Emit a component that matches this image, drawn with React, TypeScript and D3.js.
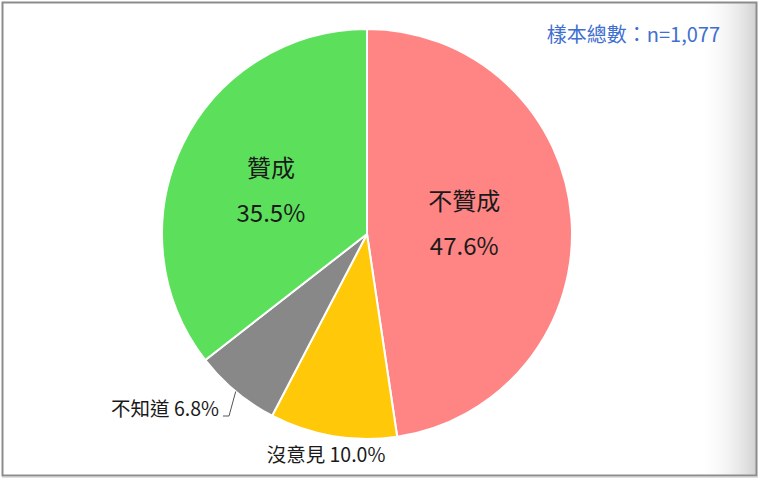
import * as React from 'react';
import * as d3 from 'd3';

const labels = ['不贊成', '沒意見', '不知道', '贊成'];
const values = [47.6, 10.0, 6.8, 35.5];
const colors = ['#FF8585', '#FFC90A', '#888888', '#5CE05C'];
const sampleNote = '樣本總數：n=1,077';

const W = 761;
const H = 479;
const cx = 367;
const cy = 234;
const r = 205;

const FONT = '"Noto Sans CJK TC", "Noto Sans", sans-serif';

const App: React.FC = () => {
  const pie = d3.pie<number>().sort(null).value((d) => d);
  const arcs = pie(values);
  const arc = d3.arc<d3.PieArcDatum<number>>().innerRadius(0).outerRadius(r);

  // label anchors for the two big slices
  const inner = d3.arc<d3.PieArcDatum<number>>().innerRadius(r * 0.5).outerRadius(r * 0.5);
  const disagreeC = inner.centroid(arcs[0]);
  const agreeC = inner.centroid(arcs[3]);

  // leader line end on the rim of the 不知道 slice
  const edge = d3.arc<d3.PieArcDatum<number>>().innerRadius(r).outerRadius(r);
  const dkEdge = edge.centroid(arcs[2]);

  const fmt = (v: number) => `${v.toFixed(1)}%`;

  return (
    <div style={{ position: 'fixed', left: 0, top: 0, width: W, height: H }}>
      <svg width={W} height={H} style={{ display: 'block' }}>
        <defs>
          <linearGradient id="shade" x1="0" x2="1" y1="0" y2="0">
            <stop offset="0" stopColor="#ffffff" stopOpacity={0} />
            <stop offset="1" stopColor="#d2d2d2" stopOpacity={1} />
          </linearGradient>
        </defs>
        <rect x={0} y={0} width={W} height={H} fill="#ffffff" />
        {/* Frame */}
        <rect x={698} y={3} width={58} height={472} fill="url(#shade)" />
        <rect x={2.5} y={2.5} width={754} height={473} fill="none" stroke="#8c8c8c" strokeWidth={2} />
        <line x1={2} x2={758} y1={477} y2={477} stroke="#c4c4c4" strokeWidth={1} />

        {/* Slices */}
        <g transform={`translate(${cx}, ${cy})`}>
          {arcs.map((a, i) => (
            <path key={labels[i]} d={arc(a) || ''} fill={colors[i]} stroke="#ffffff" strokeWidth={2} />
          ))}
        </g>

        {/* Inside labels */}
        <g fontFamily={FONT} fontSize={24} fill="#1a1a1a" textAnchor="middle">
          <text x={cx + disagreeC[0] - 5} y={210}>{labels[0]}</text>
          <text x={cx + disagreeC[0] - 5} y={255}>{fmt(values[0])}</text>
          <text x={cx + agreeC[0] - 4} y={177}>{labels[3]}</text>
          <text x={cx + agreeC[0] - 4} y={222}>{fmt(values[3])}</text>
        </g>

        {/* Outside labels */}
        <g fontFamily={FONT} fontSize={19.5} fill="#1a1a1a">
          <text x={219} y={416} textAnchor="end">{`${labels[2]} ${fmt(values[2])}`}</text>
          <text x={326} y={462} textAnchor="middle">{`${labels[1]} ${fmt(values[1])}`}</text>
        </g>
        <polyline
          points={`223,416 229,416 ${cx + dkEdge[0]},${cy + dkEdge[1]}`}
          fill="none"
          stroke="#555555"
          strokeWidth={1}
        />

        {/* Sample size */}
        <text x={720} y={42} textAnchor="end" fontFamily={FONT} fontSize={20} fill="#3f6fd0">
          {sampleNote}
        </text>
      </svg>
    </div>
  );
};

export default App;
